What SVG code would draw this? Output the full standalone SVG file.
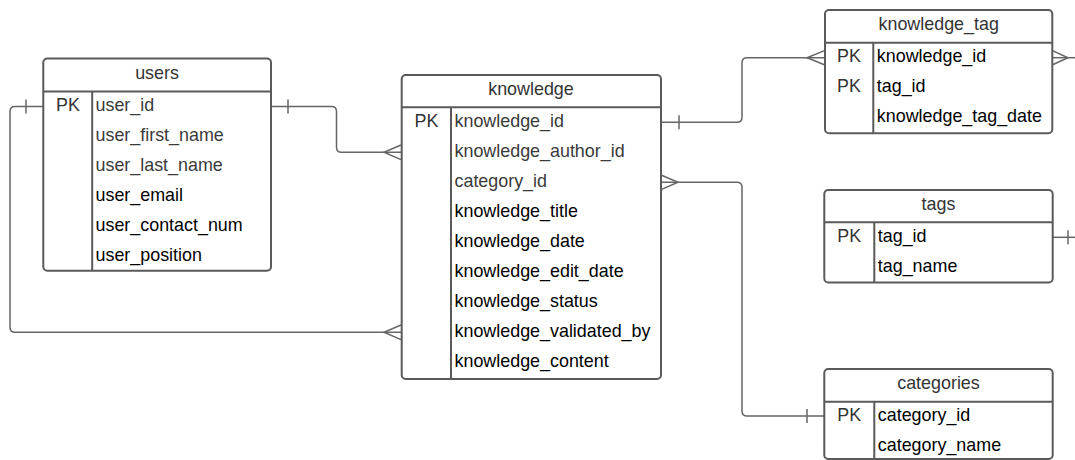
<svg xmlns="http://www.w3.org/2000/svg" width="1075" height="460" viewBox="0 0 1075 460">
<style>
.box{fill:#fff;stroke:#5a5a5a;stroke-width:2}
.ln{fill:none;stroke:#5a5a5a;stroke-width:2}
.cn{fill:none;stroke:#666;stroke-width:1.5}
text{font-family:"Liberation Sans",Arial,sans-serif;font-size:17.9px}
.h{fill:#333;text-anchor:middle}
.pk{fill:#333;text-anchor:middle}
.g{fill:#3a3a3a}
.b{fill:#000}
</style>
<rect width="1075" height="460" fill="#fff"/>
<g id="connectors">
  <path class="cn" d="M271,106.5 H331.5 Q336.5,106.5 336.5,111.5 V147.3 Q336.5,152.3 341.5,152.3 H401"/>
  <path class="cn" d="M288,99.5 V113.5"/>
  <path class="cn" d="M401,145 L384,152.3 L401,159.6"/>
  <path class="cn" d="M43,106.5 H15 Q10,106.5 10,111.5 V327.3 Q10,332.3 15,332.3 H401"/>
  <path class="cn" d="M26,99.5 V113.5"/>
  <path class="cn" d="M401,325 L384,332.3 L401,339.6"/>
  <path class="cn" d="M661,122.3 H737 Q742,122.3 742,117.3 V62.7 Q742,57.7 747,57.7 H825"/>
  <path class="cn" d="M679,115.3 V129.3"/>
  <path class="cn" d="M825,50.4 L807,57.7 L825,65"/>
  <path class="cn" d="M661,182.3 H737 Q742,182.3 742,187.3 V411 Q742,416 747,416 H825"/>
  <path class="cn" d="M661,175 L678,182.3 L661,189.6"/>
  <path class="cn" d="M807,409 V423"/>
  <path class="cn" d="M1052,57.7 H1075"/>
  <path class="cn" d="M1052,50.4 L1068,57.7 L1052,65"/>
  <path class="cn" d="M1052,237.3 H1075"/>
  <path class="cn" d="M1068,230.3 V244.3"/>
</g>
<g id="users">
  <rect class="box" x="43.3" y="58.5" width="227.7" height="212.3" rx="4"/>
  <path class="ln" d="M43.3,91.5 H271 M92.2,91.5 V270.8"/>
  <text class="h" x="157" y="79">users</text>
  <text class="pk" x="68" y="110.7">PK</text>
  <text class="g" x="95.5" y="110.7">user_id</text>
  <text class="g" x="95.5" y="140.7">user_first_name</text>
  <text class="g" x="95.5" y="170.7">user_last_name</text>
  <text class="b" x="95.5" y="200.7">user_email</text>
  <text class="b" x="95.5" y="230.7">user_contact_num</text>
  <text class="b" x="95.5" y="260.7">user_position</text>
</g>
<g id="knowledge">
  <rect class="box" x="401.7" y="75" width="259.3" height="304" rx="4"/>
  <path class="ln" d="M401.7,107.3 H661 M451,107.3 V379"/>
  <text class="h" x="531" y="95">knowledge</text>
  <text class="pk" x="426.5" y="126.5">PK</text>
  <text class="g" x="454.5" y="126.5">knowledge_id</text>
  <text class="g" x="454.5" y="156.5">knowledge_author_id</text>
  <text class="g" x="454.5" y="186.5">category_id</text>
  <text class="b" x="454.5" y="216.5">knowledge_title</text>
  <text class="b" x="454.5" y="246.5">knowledge_date</text>
  <text class="b" x="454.5" y="276.5">knowledge_edit_date</text>
  <text class="b" x="454.5" y="306.5">knowledge_status</text>
  <text class="b" x="454.5" y="336.5">knowledge_validated_by</text>
  <text class="b" x="454.5" y="366.5">knowledge_content</text>
</g>
<g id="knowledge_tag">
  <rect class="box" x="825" y="10" width="227.3" height="123.3" rx="4"/>
  <path class="ln" d="M825,42.7 H1052.3 M873.3,42.7 V133.3"/>
  <text class="h" x="938.7" y="30">knowledge_tag</text>
  <text class="pk" x="849" y="62.2">PK</text>
  <text class="pk" x="849" y="91.7">PK</text>
  <text class="b" x="876.8" y="62.2">knowledge_id</text>
  <text class="b" x="876.8" y="91.7">tag_id</text>
  <text class="b" x="876.8" y="121.5">knowledge_tag_date</text>
</g>
<g id="tags">
  <rect class="box" x="824.3" y="190" width="228.4" height="92.5" rx="4"/>
  <path class="ln" d="M824.3,222.3 H1052.7 M874.3,222.3 V282.5"/>
  <text class="h" x="938.5" y="210">tags</text>
  <text class="pk" x="849.3" y="241.5">PK</text>
  <text class="b" x="877.8" y="241.5">tag_id</text>
  <text class="b" x="877.8" y="271.5">tag_name</text>
</g>
<g id="categories">
  <rect class="box" x="824.3" y="369" width="228.4" height="90" rx="4"/>
  <path class="ln" d="M824.3,401.7 H1052.7 M874.3,401.7 V459"/>
  <text class="h" x="938.5" y="389">categories</text>
  <text class="pk" x="849.3" y="420.5">PK</text>
  <text class="b" x="877.8" y="420.5">category_id</text>
  <text class="b" x="877.8" y="450.5">category_name</text>
</g>
</svg>
